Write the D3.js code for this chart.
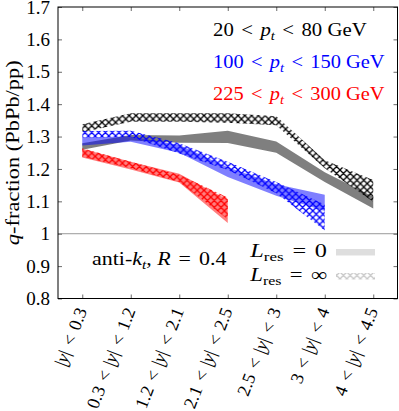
<!DOCTYPE html>
<html>
<head>
<meta charset="utf-8">
<script src="https://cdn.jsdelivr.net/npm/d3@7"></script>
<style>
  body { margin: 0; background: #fff; }
  text { font-family: "Liberation Serif", "DejaVu Serif", serif; }
</style>
</head>
<body>
<div class="first"></div>
<script>
// rapidity bins (lower / upper edge, null = from 0)
const binLo = [null, '0.3', '1.2', '2.1', '2.5', '3', '4'];
const binHi = ['0.3', '1.2', '2.1', '2.5', '3', '4', '4.5'];
const yTicks = [0.8, 0.9, 1, 1.1, 1.2, 1.3, 1.4, 1.5, 1.6, 1.7];

// bands [low, high] per bin, Lres = 0 (solid) and Lres = inf (hatched)
const lowPt0   = [[1.259,1.279],[1.288,1.305],[1.281,1.303],[1.280,1.318],[1.250,1.285],[1.160,1.190],[1.078,1.114]];
const lowPtInf = [[1.313,1.338],[1.346,1.372],[1.346,1.372],[1.343,1.372],[1.335,1.363],[1.202,1.227],[1.099,1.166]];
const midPt0   = [[1.272,1.298],[1.284,1.300],[1.250,1.274],[1.175,1.205],[1.117,1.153],[1.070,1.120]];
const midPtInf = [[1.297,1.317],[1.299,1.318],[1.248,1.279],[1.197,1.222],[1.125,1.160],[1.010,1.090]];
const highPt0   = [[1.235,1.262],[1.198,1.222],[1.158,1.185],[1.033,1.105]];
const highPtInf = [[1.238,1.264],[1.202,1.222],[1.160,1.182],[1.045,1.112]];

const w = 399, h = 411;
const m = {top: 7, left: 58, right: 1.5, bottom: 112.5};

const svg = d3.select('.first').append('svg')
    .attr('width', w).attr('height', h);

const x = d3.scaleLinear().domain([0.5, 7.5]).range([m.left, w - m.right]);
const y = d3.scaleLinear().domain([0.8, 1.7]).range([h - m.bottom, m.top]);

const defs = svg.append('defs');
function hatch(id, col, op) {
    const s = 6.8;
    const p = defs.append('pattern')
        .attr('id', id)
        .attr('patternUnits', 'userSpaceOnUse')
        .attr('width', s).attr('height', s);
    p.append('path')
        .attr('d', `M-1,-1 L${s+1},${s+1} M${s+1},-1 L-1,${s+1} M-1,${s-1} L1,${s+1} M${s-1},-1 L${s+1},1 M${s-1},${s+1} L${s+1},${s-1} M-1,1 L1,-1`)
        .attr('stroke', col)
        .attr('stroke-width', 1.3)
        .attr('stroke-opacity', op)
        .attr('fill', 'none');
}
hatch('hk', '#000', 1);
hatch('hb', '#0000ff', 1);
hatch('hr', '#ff0000', 1);
hatch('hg', '#000', 0.22);

const clip = defs.append('clipPath').attr('id', 'plotclip');
clip.append('rect')
    .attr('x', m.left).attr('y', m.top)
    .attr('width', w - m.left - m.right).attr('height', h - m.top - m.bottom);

const area = d3.area()
    .x((d, i) => x(i + 1))
    .y0(d => y(d[0]))
    .y1(d => y(d[1]));

const g = svg.append('g').attr('clip-path', 'url(#plotclip)');

// reference line at 1
g.append('line')
    .attr('x1', x(0.5)).attr('x2', x(7.5))
    .attr('y1', y(1)).attr('y2', y(1))
    .attr('stroke', '#999').attr('stroke-width', 1);

const bands = [
    {data: lowPt0, fill: '#000', op: 0.5},
    {data: midPt0, fill: '#0000ff', op: 0.5},
    {data: highPt0, fill: '#ff0000', op: 0.5},
    {data: lowPtInf, fill: 'url(#hk)', op: 1},
    {data: midPtInf, fill: 'url(#hb)', op: 1},
    {data: highPtInf, fill: 'url(#hr)', op: 1}
];
g.selectAll('path.band')
    .data(bands)
    .enter()
    .append('path')
    .attr('class', 'band')
    .attr('d', d => area(d.data))
    .attr('fill', d => d.fill)
    .attr('fill-opacity', d => d.op);

// axes, ticks pointing inward
const yl = svg.append('g')
    .attr('transform', `translate(${m.left},0)`)
    .call(d3.axisLeft(y).tickValues(yTicks).tickSize(-4).tickPadding(8)
          .tickFormat(d => String(+d.toFixed(1))));
svg.append('g')
    .attr('transform', `translate(${w - m.right},0)`)
    .call(d3.axisRight(y).tickValues(yTicks).tickSize(-4).tickFormat(''));
svg.append('g')
    .attr('transform', `translate(0,${h - m.bottom})`)
    .call(d3.axisBottom(x).tickValues(d3.range(1, 8)).tickSize(-4).tickFormat(''));
svg.append('g')
    .attr('transform', `translate(0,${m.top})`)
    .call(d3.axisTop(x).tickValues(d3.range(1, 8)).tickSize(-4).tickFormat(''));
svg.selectAll('.domain').remove();
svg.selectAll('.tick line').attr('stroke', '#444').attr('stroke-width', 0.8);
yl.selectAll('text')
    .attr('font-size', 19)
    .attr('font-family', '"Liberation Serif", serif')
    .attr('fill', '#000');

svg.append('rect')
    .attr('x', m.left).attr('y', m.top)
    .attr('width', w - m.left - m.right).attr('height', h - m.top - m.bottom)
    .attr('fill', 'none').attr('stroke', '#000').attr('stroke-width', 1);

// math-ish text: parts [text, kind], kind: i italic, s italic sub, r roman sub, rel relation
function mathText(t, parts, fs) {
    const gap = 0.36 * fs;
    let pend = 0, shift = 0;
    parts.forEach(function(p) {
        const txt = p[0], kind = p[1];
        const sp = t.append('tspan').text(txt);
        let dx = pend;
        pend = 0;
        if (kind === 'rel') { dx += gap; pend = gap; }
        if (kind === 'i' || kind === 's') sp.attr('font-style', 'italic');
        let dy = 0;
        if (kind === 's' || kind === 'r') {
            sp.attr('font-size', fs * 0.7);
            if (shift === 0) { dy = 0.2 * fs; shift = dy; }
        } else if (shift !== 0) {
            dy = -shift; shift = 0;
        }
        if (dx) sp.attr('dx', dx);
        if (dy) sp.attr('dy', dy);
    });
    return t;
}

// stretch a text horizontally to a given width (CM is wider than Times)
function fit(t, tx, ty, rot, width) {
    const len = t.node().getBBox().width;
    const sx = Math.max(0.8, Math.min(1.4, width / len));
    t.attr('transform', `translate(${tx},${ty}) rotate(${rot}) scale(${sx},1)`);
}

// x tick labels, rotated
svg.selectAll('.xlab')
    .data(d3.range(7))
    .enter()
    .append('text')
    .attr('class', 'xlab')
    .attr('font-size', 18)
    .attr('text-anchor', 'end')
    .attr('transform', i => `translate(${x(i + 1) + 5},${h - m.bottom + 12}) rotate(-69)`)
    .each(function(i) {
        const t = d3.select(this);
        const parts = [];
        if (binLo[i] !== null) parts.push([binLo[i]], ['<', 'rel']);
        parts.push(['|'], ['y', 'i'], ['|'], ['<', 'rel'], [binHi[i]]);
        mathText(t, parts, 18);
    });

// y label
const ylab = svg.append('text')
    .attr('text-anchor', 'middle')
    .attr('font-size', 19);
mathText(ylab, [['q', 'i'], ['-fraction (PbPb/pp)']], 19);
fit(ylab, 19, (m.top + h - m.bottom) / 2, -90, 185);

// pt legend
const ptLeg = [
    {lo: '20', hi: '80', col: '#000', yy: 36, wd: 154},
    {lo: '100', hi: '150', col: '#0000ff', yy: 68, wd: 172},
    {lo: '225', hi: '300', col: '#ff0000', yy: 100, wd: 172}
];
ptLeg.forEach(function(d) {
    const t = svg.append('text')
        .attr('font-size', 19)
        .attr('fill', d.col);
    mathText(t, [[d.lo], ['<', 'rel'], ['p', 'i'], ['t', 's'], ['<', 'rel'], [d.hi + ' GeV']], 19);
    fit(t, 213, d.yy, 0, d.wd);
});

// algorithm label
const alg = svg.append('text')
    .attr('font-size', 19);
mathText(alg, [['anti-'], ['k', 'i'], ['t', 's'], [', '], ['R', 'i'], ['=', 'rel'], ['0.4']], 19);
fit(alg, 92, 265, 0, 135);

// Lres legend
const resLeg = [
    {val: '0', yy: 257, fill: '#000', op: 0.13},
    {val: '\u221E', yy: 281, fill: 'url(#hg)', op: 1}
];
resLeg.forEach(function(d) {
    const t = svg.append('text')
        .attr('text-anchor', 'end')
        .attr('font-size', 19);
    mathText(t, [['L', 'i'], ['res', 'r'], ['=', 'rel'], [d.val]], 19);
    fit(t, 327, d.yy, 0, 78);
    svg.append('rect')
        .attr('x', 336).attr('y', d.yy - 8)
        .attr('width', 39).attr('height', 6.5)
        .attr('fill', d.fill).attr('fill-opacity', d.op);
});
</script>
</body>
</html>
